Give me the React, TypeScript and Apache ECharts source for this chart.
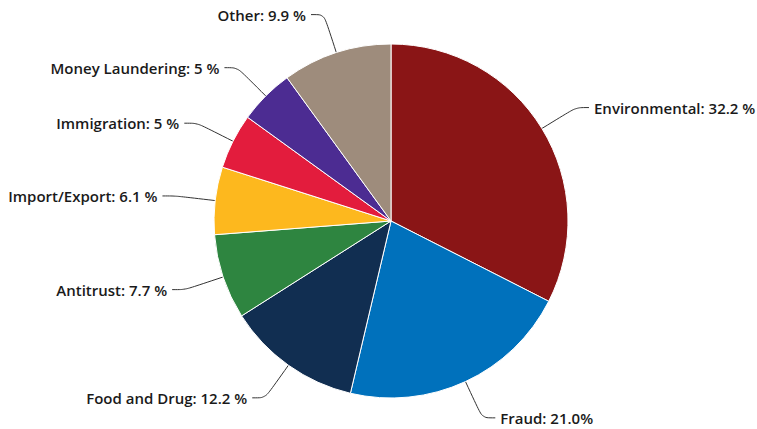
import React, { useEffect, useRef } from "react";
import * as echarts from "echarts";

const categories = [
  "Environmental",
  "Fraud",
  "Food and Drug",
  "Antitrust",
  "Import/Export",
  "Immigration",
  "Money Laundering",
  "Other",
];
const values = [32.2, 21.0, 12.2, 7.7, 6.1, 5, 5, 9.9];
const valueLabels = ["32.2 %", "21.0%", "12.2 %", "7.7 %", "6.1 %", "5 %", "5 %", "9.9 %"];
const colors = [
  "#8a1516",
  "#0071bc",
  "#112e51",
  "#2e8540",
  "#fdb81e",
  "#e31c3d",
  "#4c2c92",
  "#9e8c7c",
];

export default function App() {
  const ref = useRef<HTMLDivElement>(null);
  useEffect(() => {
    if (!ref.current) return;
    const chart = echarts.init(ref.current, undefined, { renderer: "svg" });
    chart.setOption({
      animation: false,
      backgroundColor: "#ffffff",
      series: [
        {
          type: "pie",
          center: [391, 221],
          radius: 177,
          startAngle: 90,
          clockwise: true,
          avoidLabelOverlap: true,
          data: categories.map((name, i) => ({
            name,
            value: values[i],
            itemStyle: { color: colors[i] },
          })),
          itemStyle: { borderColor: "#ffffff", borderWidth: 1 },
          label: {
            show: true,
            position: "outside",
            overflow: "none",
            edgeDistance: 0,
            formatter: (p: any) => `${p.name}: ${valueLabels[p.dataIndex]}`,
            fontFamily: "Open Sans",
            fontWeight: 600,
            fontSize: 15,
            color: "#1a1a1a",
          },
          labelLine: {
            show: true,
            length: 40,
            length2: 13,
            smooth: 0.3,
            lineStyle: { color: "#333333", width: 1 },
          },
          emphasis: { disabled: true },
        },
      ],
    });
    return () => chart.dispose();
  }, []);
  return (
    <div
      ref={ref}
      style={{ position: "fixed", left: 0, top: 0, width: 757, height: 429 }}
    />
  );
}
